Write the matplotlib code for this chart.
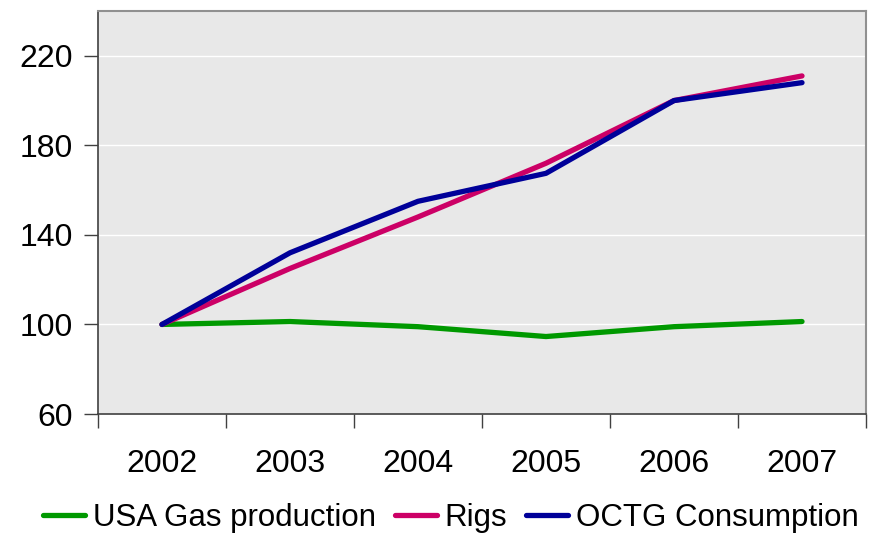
import matplotlib.pyplot as plt
import numpy as np

plt.rcParams['font.family'] = ['Liberation Sans', 'DejaVu Sans']

years = ["2002", "2003", "2004", "2005", "2006", "2007"]
gas_production = [100, 101.3, 99, 94.6, 99, 101.3]
rigs = [100, 125, 148, 172, 200, 211]
octg_consumption = [100, 132, 155, 167.5, 200, 208]

fig = plt.figure(figsize=(8.77, 5.35), dpi=100)
ax = fig.add_axes([98 / 877, 1 - 414 / 535, (866 - 98) / 877, (414 - 11) / 535])
ax.set_facecolor('#E8E8E8')

x = np.arange(len(years))
ax.plot(x, gas_production, color='#009900', lw=3.8, solid_capstyle='round', label='USA Gas production')
ax.plot(x, rigs, color='#CC0066', lw=3.8, solid_capstyle='round', label='Rigs')
ax.plot(x, octg_consumption, color='#000099', lw=3.8, solid_capstyle='round', label='OCTG Consumption')

ax.set_xlim(-0.5, len(years) - 0.5)
ax.set_ylim(60, 240)
ax.set_yticks([60, 100, 140, 180, 220])
ax.yaxis.grid(True, color='white', lw=1)
ax.set_axisbelow(True)

ax.set_xticks(np.arange(len(years) + 1) - 0.5)
ax.set_xticklabels([])
ax.set_xticks(x, minor=True)
ax.set_xticklabels(years, minor=True)
ax.tick_params(axis='x', which='minor', length=0, pad=25, labelsize=23)
ax.tick_params(axis='x', which='major', length=10, width=1, color='#404040')
ax.tick_params(axis='y', length=10, width=1, color='#404040', labelsize=23, pad=8)

for side in ['left', 'bottom']:
    ax.spines[side].set_color('#404040')
    ax.spines[side].set_linewidth(1.2)
for side in ['top', 'right']:
    ax.spines[side].set_color('#909090')
    ax.spines[side].set_linewidth(1.5)

fig.legend(loc='center', bbox_to_anchor=(0.514, 1 - 518 / 535), ncol=3, frameon=False,
           fontsize=22.5, handlelength=1.35, handletextpad=0.25, columnspacing=0.6,
           borderaxespad=0, borderpad=0)

fig.savefig('out.png', dpi=100)
